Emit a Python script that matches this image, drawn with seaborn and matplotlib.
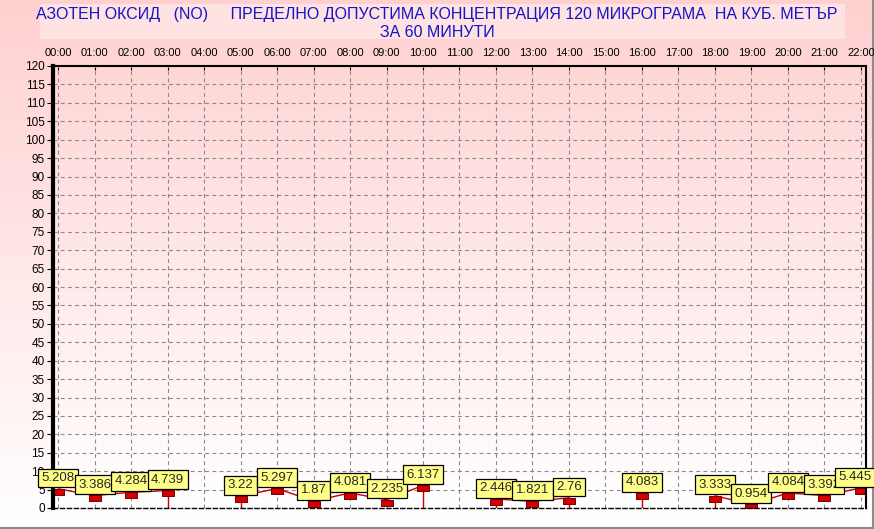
import numpy as np
import pandas as pd
import matplotlib
matplotlib.use('Agg')
import matplotlib.pyplot as plt
import seaborn as sns
from matplotlib.patches import Rectangle
from matplotlib.lines import Line2D

# Data
hours = [0, 1, 2, 3, 5, 6, 7, 8, 9, 10, 12, 13, 14, 16, 18, 19, 20, 21, 22]
values = [5.208, 3.386, 4.284, 4.739, 3.22, 5.297, 1.87, 4.081, 2.235, 6.137,
          2.446, 1.821, 2.76, 4.083, 3.333, 0.954, 4.084, 3.392, 5.445]
segment = [0, 0, 0, 0, 1, 1, 1, 1, 1, 1, 2, 2, 2, 3, 4, 4, 4, 4, 4]
hour_labels = ['%02d:00' % h for h in range(23)]
y_ticks = list(range(0, 121, 5))

title = ('АЗОТЕН ОКСИД   (NO)     ПРЕДЕЛНО ДОПУСТИМА КОНЦЕНТРАЦИЯ 120 МИКРОГРАМА  НА КУБ. МЕТЪР\n'
         'ЗА 60 МИНУТИ')

df = pd.DataFrame({'hour': hours, 'value': values, 'segment': segment})

sns.set_style('white')
plt.rcParams['font.family'] = ['Liberation Sans', 'DejaVu Sans']

fig = plt.figure(figsize=(8.74, 5.29), dpi=100)

# figure background: vertical pink -> white gradient
bg = fig.add_axes([0, 0, 1, 1], zorder=-10)
grad = np.linspace(0, 1, 256).reshape(-1, 1)
top_c = np.array([255, 208, 208]) / 255
bot_c = np.array([255, 255, 255]) / 255
img = top_c * (1 - grad[..., None]) + bot_c * grad[..., None]
img = np.repeat(img, 2, axis=1)
bg.imshow(img, aspect='auto', extent=[0, 1, 0, 1], origin='upper')
bg.set_axis_off()
bg.add_patch(Rectangle((40 / 874, 1 - 39 / 529), 805 / 874, 35 / 529,
                       facecolor='#ffe2e2', edgecolor='none'))
bg.add_line(Line2D([0, 1], [1.5 / 529, 1.5 / 529], color='#8c8c8c', lw=1.5))
bg.add_line(Line2D([1 - 1 / 874, 1 - 1 / 874], [0, 1], color='#8c8c8c', lw=1.5))
bg.set_xlim(0, 1)
bg.set_ylim(0, 1)

fig.text(0.5, 1 - 23.5 / 529, title, ha='center', va='center', color='#1414c8',
         fontsize=11.5, linespacing=1.2)

ax = fig.add_axes([53 / 874, 1 - 508 / 529, 813 / 874, 442 / 529])
ax.patch.set_alpha(0)

# plot-area gradient
pgrad = np.linspace(0, 1, 256).reshape(-1, 1)
pimg = np.array([255, 214, 214]) / 255 * (1 - pgrad[..., None]) + np.array([255, 255, 255]) / 255 * pgrad[..., None]
pimg = np.repeat(pimg, 2, axis=1)
ax.imshow(pimg, aspect='auto', extent=[-0.14, 22.14, 0, 120], origin='upper', zorder=0)

ax.set_xlim(-0.14, 22.14)
ax.set_ylim(0, 120)

# grid
for h in range(23):
    ax.axvline(h, color='#8a8a8a', lw=0.8, ls=(0, (3.5, 3)), zorder=1)
for y in y_ticks[1:]:
    ax.axhline(y, color='#8a8a8a', lw=0.8, ls=(0, (3.5, 3)), zorder=1)

# lines by segment
sns.lineplot(data=df, x='hour', y='value', units='segment', estimator=None,
             color='#cc0000', lw=1, ax=ax, zorder=3, legend=False)

# vertical drops at gap edges
for s, g in df.groupby('segment'):
    first, last = g.iloc[0], g.iloc[-1]
    if first['hour'] != hours[0]:
        ax.vlines(first['hour'], 0, first['value'], color='#cc0000', lw=1, zorder=3)
    if last['hour'] != hours[-1] and last['hour'] != first['hour']:
        ax.vlines(last['hour'], 0, last['value'], color='#cc0000', lw=1, zorder=3)

rect = [(-1, -0.55), (1, -0.55), (1, 0.55), (-1, 0.55), (-1, -0.55)]
ax.plot(df['hour'], df['value'] - 0.8, ls='none', marker=rect, markersize=9,
        markerfacecolor='#d40000', markeredgecolor='#7a0000', markeredgewidth=0.7, zorder=4)

for h, v in zip(hours, values):
    dx = -4 if h == hours[-1] else 0
    ax.annotate('%g' % v, (h, v), xytext=(dx, 3.5), textcoords='offset points',
                ha='center', va='bottom', fontsize=9.5, zorder=6, annotation_clip=False,
                bbox=dict(boxstyle='square,pad=0.26', facecolor='#ffff88',
                          edgecolor='black', lw=0.9))

# axes / ticks
ax.set_yticks(y_ticks)
ax.set_yticklabels([str(t) for t in y_ticks], fontsize=8.5)
ax.set_xticks(range(23))
ax.set_xticklabels(hour_labels, fontsize=8)
ax.xaxis.tick_top()
ax.tick_params(axis='x', top=True, direction='in', length=3, pad=6, colors='black')
ax.tick_params(axis='y', left=True, direction='out', length=4, width=0.8, pad=2, colors='black')
ax.set_xlabel('')
ax.set_ylabel('')

ax.spines['left'].set_linewidth(3)
ax.spines['left'].set_color('black')
ax.spines['top'].set_linewidth(1.5)
ax.spines['top'].set_color('black')
ax.spines['right'].set_linewidth(1.5)
ax.spines['right'].set_color('black')
ax.spines['bottom'].set_linewidth(1)
ax.spines['bottom'].set_color('black')
ax.spines['bottom'].set_linestyle((0, (3, 2)))
for sp in ax.spines.values():
    sp.set_zorder(5)

fig.savefig('out.png', dpi=100)
